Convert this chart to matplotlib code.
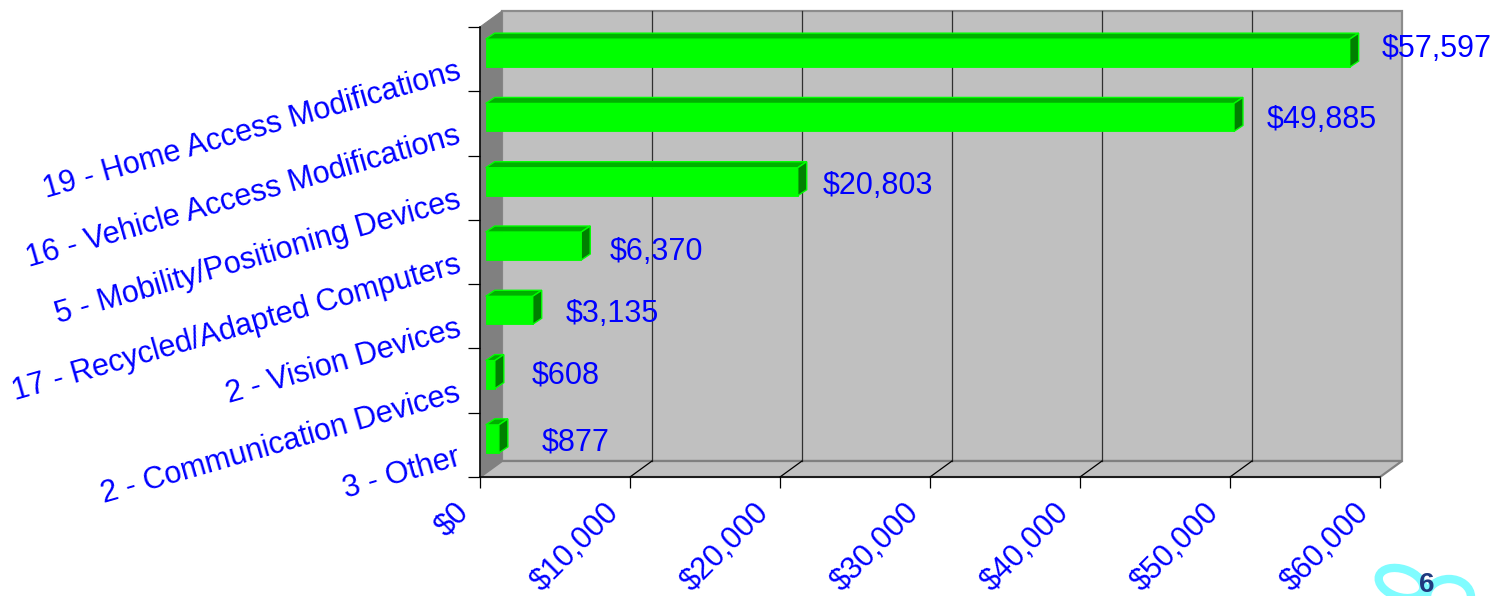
import matplotlib
matplotlib.use("Agg")
import matplotlib.pyplot as plt
from matplotlib.patches import Polygon, Ellipse
from matplotlib.transforms import Affine2D, IdentityTransform

plt.rcParams['font.family'] = ['Liberation Sans', 'DejaVu Sans']

categories = ["19 - Home Access Modifications", "16 - Vehicle Access Modifications",
              "5 - Mobility/Positioning Devices", "17 - Recycled/Adapted Computers",
              "2 - Vision Devices", "2 - Communication Devices", "3 - Other"]
values = [57597, 49885, 20803, 6370, 3135, 608, 877]
value_labels = ["$57,597", "$49,885", "$20,803", "$6,370", "$3,135", "$608", "$877"]
x_ticks = [0, 10000, 20000, 30000, 40000, 50000, 60000]
x_tick_labels = ["$0", "$10,000", "$20,000", "$30,000", "$40,000", "$50,000", "$60,000"]

# label nudges in pixels (x from bar end, y from bar centre, up positive)
label_dx = [32, 33, 25, 28, 33, 37, 43]
label_dy = [4, -3, -4, -6, -4, -1, -4]

W, H = 1508, 596
fig = plt.figure(figsize=(W / 100, H / 100), dpi=100, facecolor='white')
ax = fig.add_axes([480 / W, 1 - 477 / H, 900 / W, 450 / H])
ax.set_xlim(0, 60000)
ax.set_ylim(7, 0)
ax.patch.set_visible(False)
for s in ['top', 'right']:
    ax.spines[s].set_visible(False)
for s in ['left', 'bottom']:
    ax.spines[s].set_linewidth(1.1)
    ax.spines[s].set_zorder(6)

DX, DY = 22, 16      # depth of the chart box in pixels
BX, BY = 9, 6        # depth of the bars in pixels
SX, SY = 5.7, 6      # shift of bars within the box
BAR_H = 0.435
px = IdentityTransform()
fig.canvas.draw()


def P(x, y, dx=0, dy=0):
    a, b = ax.transData.transform((x, y))
    return (a + dx, b + dy)


def poly(pts, **kw):
    p = Polygon(pts, closed=True, transform=px, clip_on=False, **kw)
    ax.add_patch(p)


# walls and floor
poly([P(0, 7, DX, DY), P(60000, 7, DX, DY), P(60000, 0, DX, DY), P(0, 0, DX, DY)],
     facecolor='#c0c0c0', edgecolor='#8c8c8c', linewidth=1.6, zorder=1)
poly([P(0, 7), P(0, 0), P(0, 0, DX, DY), P(0, 7, DX, DY)],
     facecolor='#808080', edgecolor='#808080', linewidth=0.8, zorder=1.2)
poly([P(0, 7), P(60000, 7), P(60000, 7, DX, DY), P(0, 7, DX, DY)],
     facecolor='#c0c0c0', edgecolor='#808080', linewidth=1.6, zorder=1.2)

# gridlines on the back wall and floor
for v in x_ticks[1:-1]:
    a, b = P(v, 7, DX, DY), P(v, 0, DX, DY)
    ax.plot([a[0], b[0]], [a[1], b[1]], color='#303030', lw=0.9, transform=px, clip_on=False, zorder=1.5)
    c = P(v, 7)
    ax.plot([c[0], a[0]], [c[1], a[1]], color='#000000', lw=0.9, transform=px, clip_on=False, zorder=1.5)

# bars
ypos = [i + 0.5 for i in range(len(values))]
front = ax.transData + Affine2D().translate(SX, SY)
ax.barh(ypos, values, height=BAR_H, color='#00ff00', edgecolor='#00ff00', linewidth=0.6,
        transform=front, clip_on=False, zorder=3)
for y, v, lab, ldx, ldy in zip(ypos, values, value_labels, label_dx, label_dy):
    yt, yb = y - BAR_H / 2, y + BAR_H / 2
    poly([P(0, yt, SX, SY), P(v, yt, SX, SY), P(v, yt, SX + BX, SY + BY), P(0, yt, SX + BX, SY + BY)],
         facecolor='#00b000', edgecolor='#00ff00', linewidth=1.0, zorder=3.1)
    poly([P(v, yt, SX, SY), P(v, yb, SX, SY), P(v, yb, SX + BX, SY + BY), P(v, yt, SX + BX, SY + BY)],
         facecolor='#008000', edgecolor='#00ff00', linewidth=1.0, zorder=3.2)
    ax.annotate(lab, xy=(v, y), xytext=(SX + ldx, SY + ldy), textcoords='offset pixels',
                ha='left', va='center', color='#0000ff', fontsize=22, annotation_clip=False, zorder=5)

# axes ticks and labels
ax.set_xticks(x_ticks)
ax.set_xticklabels(x_tick_labels)
ax.set_yticks(ypos)
ax.set_yticklabels(categories)
ax.set_yticks(range(8), minor=True)
ax.tick_params(axis='y', which='major', length=0, pad=14.4)
ax.tick_params(axis='y', which='minor', length=8.6, width=0.9, color='black')
ax.tick_params(axis='x', which='major', length=8, width=0.9, color='black', pad=0)
for t in ax.get_yticklabels():
    t.set(rotation=16, rotation_mode='anchor', ha='right', va='center', color='#0000ff', fontsize=22)
    t.set_transform(t.get_transform() + Affine2D().translate(0, -12))
for t in ax.get_xticklabels():
    t.set(rotation=45, rotation_mode='anchor', ha='right', va='top', color='#0000ff', fontsize=22)
    t.set_transform(t.get_transform() + Affine2D().translate(-26, -9))

# page-number ornament, cut off by the bottom edge
for cx, cy, w, h, ang in [(1401, 583, 46, 28, -18), (1449, 597, 44, 36, 0)]:
    fig.add_artist(Ellipse((cx, H - cy), w, h, angle=ang, transform=px, facecolor='none',
                           edgecolor='#80fcff', linewidth=6))
fig.text(1427 / W, 1 - 585 / H, "6", color='#1f3a80', fontsize=20, fontweight='bold',
         ha='center', va='center')

fig.savefig("out.png", dpi=100, facecolor='white')
